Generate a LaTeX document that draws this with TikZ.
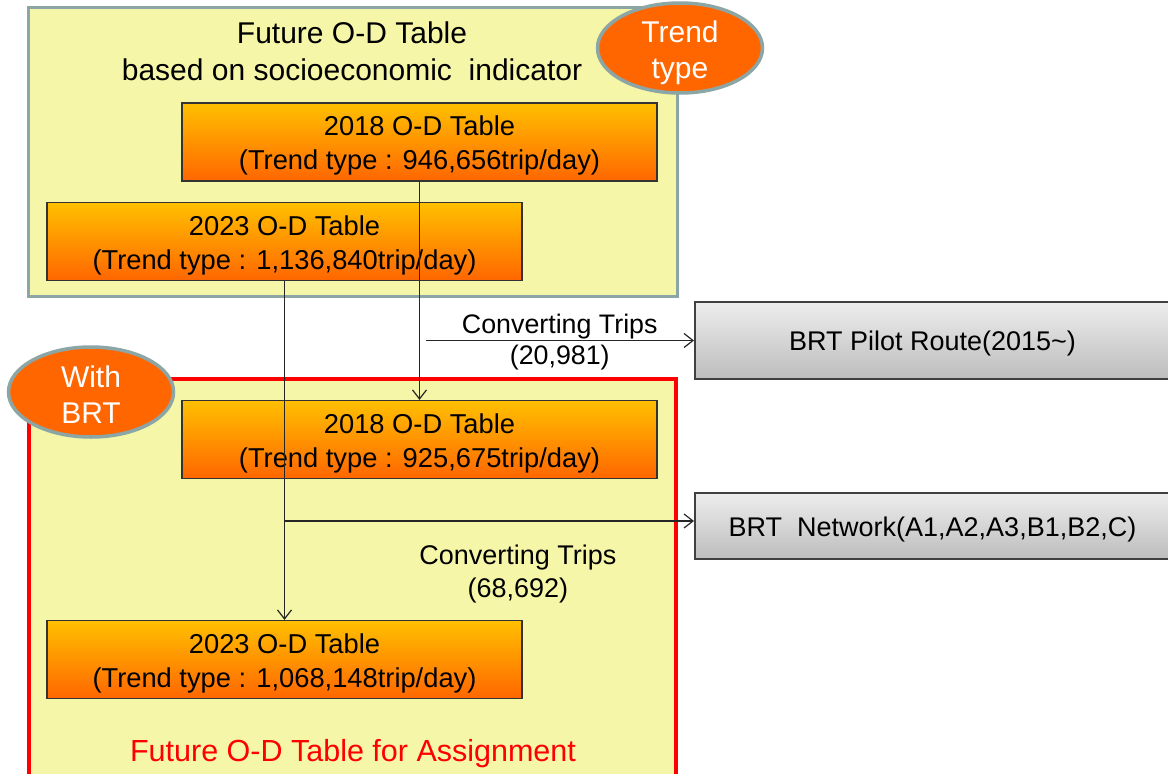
\documentclass[tikz,border=0pt]{standalone}
\usepackage{fontspec}
\setmainfont{Liberation Sans}
\usetikzlibrary{shapes.geometric,arrows.meta}

\definecolor{panelfill}{RGB}{246,246,168}
\definecolor{panelgray}{RGB}{140,165,165}
\definecolor{tagorange}{RGB}{255,102,0}
\definecolor{boxtop}{RGB}{255,192,0}
\definecolor{boxbot}{RGB}{255,102,0}

\tikzset{
	odbox/.style={draw=black!80, line width=1.2pt, top color=boxtop, bottom color=boxbot,
		minimum width=475pt, minimum height=78pt, inner sep=0pt, align=center,
		text height=61pt, font=\fontsize{27.3}{34}\selectfont},
	routebox/.style={draw=black!75, line width=2pt, top color=black!7, bottom color=black!26,
		minimum width=475pt, inner sep=0pt,
		execute at begin node={\rule{0pt}{26pt}}, font=\fontsize{27}{32}\selectfont},
	tag/.style={ellipse, draw=panelgray, line width=3.5pt, fill=tagorange, text=white,
		minimum width=165pt, minimum height=90pt, inner sep=-10pt, align=center,
		text height=#1, font=\fontsize{30}{36}\selectfont},
	conn/.style={draw=black!85, line width=1.2pt, -{Straight Barb[length=9pt,width=14pt]}},
}

\begin{document}
\begin{tikzpicture}[x=1pt, y=-1pt]
		\useasboundingbox (0,0) rectangle (1168,774);
		\clip (0,0) rectangle (1168,774);
		
		% Панели
		\draw[line width=3pt, draw=panelgray, fill=panelfill] (28.5,7) rectangle (677,296);
		\draw[line width=4pt, draw=red, fill=panelfill] (29,379) rectangle (676,780);
		
		\node[align=center, font=\fontsize{30}{37}\selectfont] (title) at (352,51)
			{Future O-D Table\\based on socioeconomic~ indicator};
		\node[text=red, font=\fontsize{30.5}{37}\selectfont] (assign) at (353,754)
			{Future O-D Table for Assignment};
		
		% Таблицы O-D
		\node[odbox] (top2018) at (419.5,142) {2018 O-D Table\\(Trend type : 946,656trip/day)};
		\node[odbox] (top2023) at (284.5,241.5) {2023 O-D Table\\(Trend type : 1,136,840trip/day)};
		\node[odbox] (bot2018) at (419.5,439.5) {2018 O-D Table\\(Trend type : 925,675trip/day)};
		\node[odbox] (bot2023) at (284.5,659.5) {2023 O-D Table\\(Trend type : 1,068,148trip/day)};
		
		% Маршруты BRT
		\node[routebox, minimum height=77pt] (pilot) at (932.5,340.5) {BRT Pilot Route(2015\textasciitilde)};
		\node[routebox, minimum height=66pt] (network) at (932.5,526) {BRT~ Network(A1,A2,A3,B1,B2,C)};
		
		% Метки
		\node[tag=68pt] (trend) at (680,48) {Trend\\type};
		\node[tag=62pt] (withbrt) at (91,392) {With\\BRT};
		
		% Стрелки
		\draw[conn] (top2018.south) -- (bot2018.north);
		\draw[conn] (top2023.south) -- (bot2023.north);
		
		\coordinate (tap1) at ([xshift=6pt]top2018.south |- pilot.west);
		\draw[conn] (tap1) -- (pilot.west)
			node[midway, yshift=-2pt, align=center, font=\fontsize{26.8}{31}\selectfont] {Converting Trips\\(20,981)};
		
		\coordinate (tap2) at (top2023.south |- 0,521);
		\draw[conn] (tap2) -- (tap2 -| network.west)
			node[pos=0.57, below=20pt, align=center, font=\fontsize{27}{33}\selectfont] {Converting Trips\\(68,692)};
	\end{tikzpicture}
\end{document}
